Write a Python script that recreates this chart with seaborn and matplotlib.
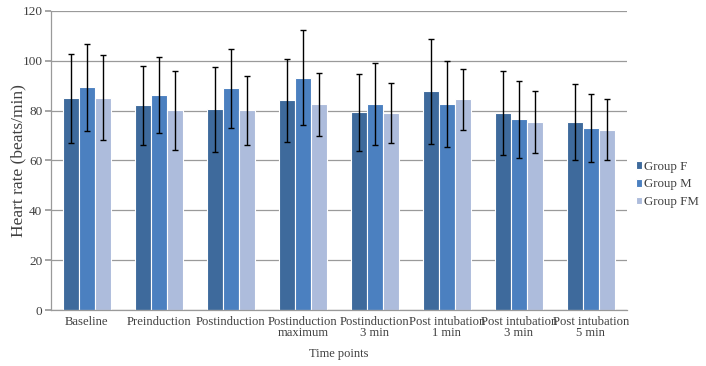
import numpy as np
import pandas as pd
import seaborn as sns
import matplotlib.pyplot as plt

# --- data (mean +/- SD, beats/min) ---
time_points = [
    "Baseline", "Preinduction", "Postinduction", "Postinduction\nmaximum",
    "Postinduction\n3 min", "Post intubation\n1 min", "Post intubation\n3 min",
    "Post intubation\n5 min",
]
groups = ["Group F", "Group M", "Group FM"]

mean_f = [84.9, 82.1, 80.5, 84.1, 79.4, 87.7, 79.1, 75.4]
mean_m = [89.3, 86.3, 88.9, 93.3, 82.7, 82.6, 76.6, 73.0]
mean_fm = [85.2, 80.1, 80.1, 82.5, 79.0, 84.6, 75.4, 72.4]

sd_f = [17.9, 15.8, 17.0, 16.7, 15.5, 21.0, 17.0, 15.4]
sd_m = [17.4, 15.2, 15.9, 19.0, 16.3, 17.2, 15.5, 13.5]
sd_fm = [17.1, 16.0, 13.9, 12.5, 12.0, 12.3, 12.5, 12.2]

colors = ["#3e6a9c", "#4b80c0", "#adbcdc"]

df = pd.DataFrame({
    "time": time_points * 3,
    "group": np.repeat(groups, len(time_points)),
    "hr": mean_f + mean_m + mean_fm,
    "sd": sd_f + sd_m + sd_fm,
})

sns.set_theme(style="white")
plt.rcParams["font.family"] = ["Liberation Serif", "DejaVu Serif"]
text_col = "#404040"

fig = plt.figure(figsize=(7.06, 3.66), dpi=100)
ax = fig.add_axes([0.072, 0.153, 0.816, 0.817])

sns.barplot(data=df, x="time", y="hr", hue="group", order=time_points,
            hue_order=groups, palette=colors, errorbar=None, width=0.67,
            edgecolor="white", linewidth=0.8, saturation=1, ax=ax,
            zorder=2)

# error bars (SD) on each bar
for cont, g in zip(ax.containers, groups):
    sub = df[df["group"] == g].set_index("time").loc[time_points]
    xs = [p.get_x() + p.get_width() / 2 for p in cont.patches]
    ax.errorbar(xs, sub["hr"].values, yerr=sub["sd"].values, fmt="none",
                ecolor="black", elinewidth=1.0, capsize=2.2, capthick=1.0,
                zorder=3)

ax.set_ylim(0, 120)
ax.set_yticks(range(0, 121, 20))
ax.set_xlim(-0.5, len(time_points) - 0.5)
ax.yaxis.grid(True, color="#9a9a9a", linewidth=0.9, zorder=0)
ax.set_axisbelow(True)

for s in ["top", "right"]:
    ax.spines[s].set_visible(False)
for s in ["left", "bottom"]:
    ax.spines[s].set_color("#9a9a9a")
    ax.spines[s].set_linewidth(0.9)

ax.tick_params(axis="y", which="both", left=True, length=4, color="#9a9a9a",
               labelsize=9.5, labelcolor=text_col, pad=2)
ax.tick_params(axis="x", length=0, labelsize=9.1, labelcolor=text_col, pad=4)
for lab in ax.get_xticklabels():
    lab.set_linespacing(0.95)

ax.set_ylabel("Heart rate (beats/min)", fontsize=12.5, color=text_col)
ax.yaxis.set_label_coords(-0.043, 0.5)
ax.set_xlabel("Time points", fontsize=9, color=text_col)
ax.xaxis.set_label_coords(0.5, -0.128)

handles, labels = ax.get_legend_handles_labels()
ax.legend(handles, labels, loc="center left", bbox_to_anchor=(1.0, 0.42),
          frameon=False, fontsize=9.3, handlelength=0.5, handleheight=0.5,
          handletextpad=0.15, labelspacing=0.45, labelcolor=text_col,
          borderaxespad=0.3)

fig.savefig("out.png", dpi=100)
